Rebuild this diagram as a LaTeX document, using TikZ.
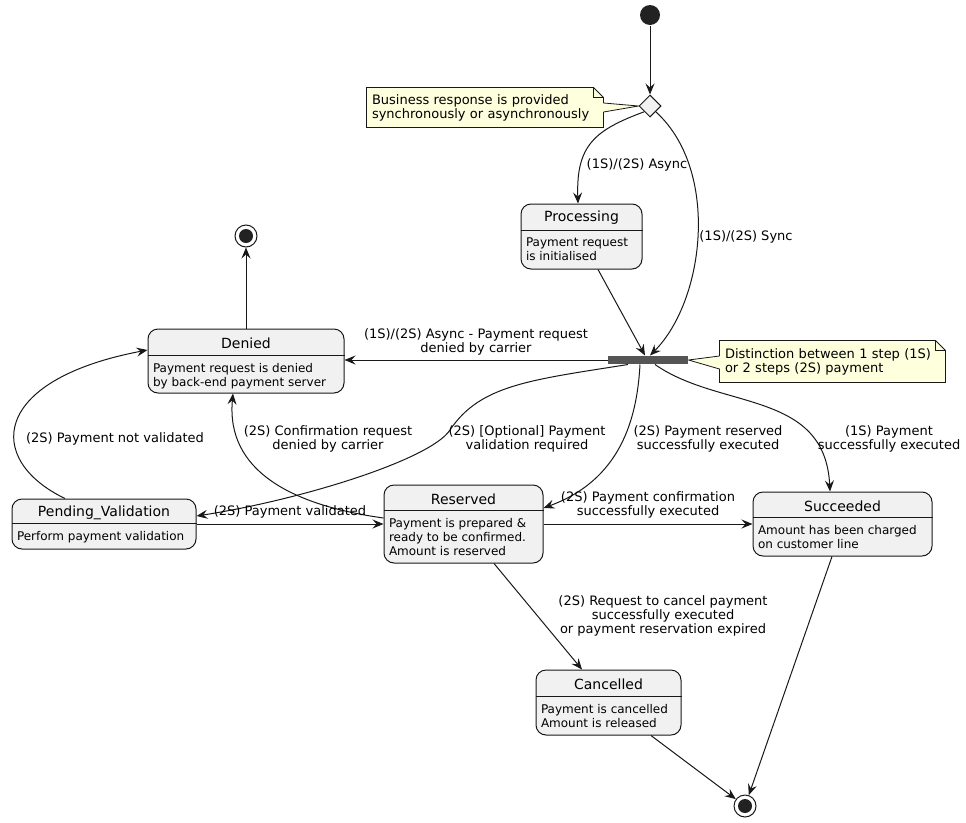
\documentclass[tikz,border=0pt]{standalone}
\usepackage{fontspec}
\setmainfont{DejaVu Sans}
\usetikzlibrary{arrows.meta,positioning,shapes.geometric,backgrounds}
\definecolor{stfill}{HTML}{F1F1F1}
\definecolor{stline}{HTML}{181818}
\definecolor{notefill}{HTML}{FEFFDD}
\definecolor{forkgray}{HTML}{555555}
\definecolor{dot}{HTML}{222222}

\begin{document}
\begin{tikzpicture}[x=1pt,y=-1pt,line width=1pt,
  st/.style={draw=stline,fill=stfill,rounded corners=10pt,inner sep=0pt},
  sttl/.style={font=\fontsize{14}{16}\selectfont,inner sep=0pt},
  stdesc/.style={font=\fontsize{12}{14}\selectfont,align=left,inner xsep=5pt,inner ysep=2pt,anchor=north west},
  sep/.style={draw=stline,line width=.8pt},
  lbl/.style={font=\fontsize{13}{14}\selectfont,align=center,inner sep=0pt},
  notebox/.style={font=\fontsize{13}{14}\selectfont,align=left,inner xsep=5pt,inner ysep=0pt},
  arr/.style={draw=stline,-{Stealth[length=11pt,width=9pt,inset=4pt]}},
  startst/.style={circle,fill=dot,minimum size=20pt,inner sep=0pt},
  endst/.style={circle,draw=stline,fill=white,minimum size=22pt,inner sep=0pt,
    path picture={\fill[dot] (path picture bounding box.center) circle (7pt);}}]
  \useasboundingbox (0,0) rectangle (966,822);

  % pseudo states
  \node[startst] (start) at (650,15) {};
  \node[diamond,draw=stline,fill=stfill,minimum size=22pt,inner sep=0pt] (choice) at (650,106) {};
  \node[fill=forkgray,minimum width=80pt,minimum height=8pt,inner sep=0pt] (fork) at (648,360) {};
  \node[endst] (endtop) at (246,236) {};
  \node[endst] (endbot) at (745,806) {};

  % states
  \node[st,minimum width=121pt,minimum height=65pt] (proc) at (581.5,236.5) {};
  \node[sttl] (proc-t) at ([yshift=-14.5pt]proc.north) {Processing};
  \draw[sep] ([yshift=-27pt]proc.north west) -- ([yshift=-27pt]proc.north east);
  \node[stdesc] (proc-d) at ([yshift=-32pt]proc.north west) {Payment request\\is initialised};

  \node[st,minimum width=196pt,minimum height=64pt] (den) at (246,361) {};
  \node[sttl] (den-t) at ([yshift=-14.5pt]den.north) {Denied};
  \draw[sep] ([yshift=-27pt]den.north west) -- ([yshift=-27pt]den.north east);
  \node[stdesc] (den-d) at ([yshift=-32pt]den.north west) {Payment request is denied\\by back-end payment server};

  \node[st,minimum width=184pt,minimum height=50pt] (pend) at (104,524) {};
  \node[sttl] (pend-t) at ([yshift=-14.5pt]pend.north) {Pending\_Validation};
  \draw[sep] ([yshift=-25pt]pend.north west) -- ([yshift=-25pt]pend.north east);
  \node[stdesc] (pend-d) at ([yshift=-30pt]pend.north west) {Perform payment validation};

  \node[st,minimum width=159pt,minimum height=78pt] (res) at (463.5,524) {};
  \node[sttl] (res-t) at ([yshift=-14.5pt]res.north) {Reserved};
  \draw[sep] ([yshift=-26pt]res.north west) -- ([yshift=-26pt]res.north east);
  \node[stdesc] (res-d) at ([yshift=-31pt]res.north west) {Payment is prepared \&\\ready to be confirmed.\\Amount is reserved};

  \node[st,minimum width=179pt,minimum height=64pt] (succ) at (842.5,524) {};
  \node[sttl] (succ-t) at ([yshift=-14.5pt]succ.north) {Succeeded};
  \draw[sep] ([yshift=-26pt]succ.north west) -- ([yshift=-26pt]succ.north east);
  \node[stdesc] (succ-d) at ([yshift=-31pt]succ.north west) {Amount has been charged\\on customer line};

  \node[st,minimum width=145pt,minimum height=65pt] (canc) at (608.5,702.5) {};
  \node[sttl] (canc-t) at ([yshift=-14.5pt]canc.north) {Cancelled};
  \draw[sep] ([yshift=-27pt]canc.north west) -- ([yshift=-27pt]canc.north east);
  \node[stdesc] (canc-d) at ([yshift=-32pt]canc.north west) {Payment is cancelled\\Amount is released};

  % notes
  \node[notebox,minimum width=236pt,minimum height=39pt,text width=226pt] (note1) at (485,107.5)
    {Business response is provided\\synchronously or asynchronously};
  \node[notebox,minimum width=225pt,minimum height=41pt,text width=215pt] (note2) at (832.5,361.5)
    {Distinction between 1 step (1S)\\or 2 steps (2S) payment};
  \begin{scope}[on background layer]
    \filldraw[draw=stline,fill=notefill,line width=.8pt] (note1.north west) -- ([xshift=-10pt]note1.north east)
      -- ([yshift=-10pt]note1.north east) -- (note1.south east) -- (note1.south west) -- cycle;
    \draw[stline,line width=.8pt] ([xshift=-10pt]note1.north east) -- ([xshift=-10pt,yshift=-10pt]note1.north east)
      -- ([yshift=-10pt]note1.north east);
    \fill[notefill] ([xshift=-1pt,yshift=4.5pt]note1.east) -- (choice.west) -- ([xshift=-1pt,yshift=-4.5pt]note1.east) -- cycle;
    \draw[stline,line width=.8pt] ([yshift=4.5pt]note1.east) -- (choice.west) -- ([yshift=-4.5pt]note1.east);

    \filldraw[draw=stline,fill=notefill,line width=.8pt] (note2.north west) -- ([xshift=-10pt]note2.north east)
      -- ([yshift=-10pt]note2.north east) -- (note2.south east) -- (note2.south west) -- cycle;
    \draw[stline,line width=.8pt] ([xshift=-10pt]note2.north east) -- ([xshift=-10pt,yshift=-10pt]note2.north east)
      -- ([yshift=-10pt]note2.north east);
    \fill[notefill] ([xshift=1pt,yshift=5.5pt]note2.west) -- (fork.east) -- ([xshift=1pt,yshift=-7.5pt]note2.west) -- cycle;
    \draw[stline,line width=.8pt] ([yshift=5.5pt]note2.west) -- (fork.east) -- ([yshift=-7.5pt]note2.west);
  \end{scope}

  % transitions
  \draw[arr] (start) -- (choice.north);
  \draw[arr] (choice.south west) .. controls (595,130) and (576,145) .. ([xshift=-3.5pt]proc.north);
  \draw[arr] (choice.south east) .. controls (720,170) and (705,300) .. ([xshift=2pt]fork.north);
  \draw[arr] ([xshift=16.5pt]proc.south) -- ([xshift=-3pt]fork.north);
  \draw[arr] (fork.west) -- (fork.west -| den.east);
  \draw[arr] (den.north) -- (endtop);
  \draw[arr] ([xshift=-39pt]pend.north) .. controls (-15,460) and (-10,380) .. ([yshift=11pt]den.west);
  \draw[arr] (pend.east) -- (pend.east -| res.west);
  \draw[arr] ([xshift=-20pt]fork.south) .. controls (530,380) and (480,385) .. (450,430)
    .. controls (430,460) and (300,500) .. ([yshift=8pt]pend.east);
  \draw[arr] ([yshift=6pt]res.west) .. controls (290,505) and (226,470) .. ([xshift=-13pt]den.south);
  \draw[arr] ([xshift=-8pt]fork.south) .. controls (637,420) and (620,480) .. ([yshift=16pt]res.east);
  \draw[arr] ([xshift=7pt]fork.south) .. controls (720,410) and (825,390) .. ([xshift=-12.5pt]succ.north);
  \draw[arr] (res.east) -- (res.east -| succ.west);
  \draw[arr] ([xshift=30.5pt]res.south) -- ([xshift=-26.5pt]canc.north);
  \draw[arr] ([xshift=42.5pt]canc.south) -- (endbot);
  \draw[arr] ([xshift=-10.5pt]succ.south) -- (endbot);

  % labels
  \node[lbl] (l-async) at (637,165) {(1S)/(2S) Async};
  \node[lbl] (l-sync) at (746,237) {(1S)/(2S) Sync};
  \node[lbl] (l-deny) at (476,342) {(1S)/(2S) Async - Payment request\\denied by carrier};
  \node[lbl] (l-notval) at (115,439) {(2S) Payment not validated};
  \node[lbl] (l-confden) at (328,439) {(2S) Confirmation request\\denied by carrier};
  \node[lbl] (l-opt) at (527,439) {(2S) [Optional] Payment\\validation required};
  \node[lbl] (l-resv) at (708,439) {(2S) Payment reserved\\successfully executed};
  \node[lbl] (l-1s) at (889,439) {(1S) Payment\\successfully executed};
  \node[lbl] (l-val) at (290,512) {(2S) Payment validated};
  \node[lbl] (l-conf) at (648,505) {(2S) Payment confirmation\\successfully executed};
  \node[lbl] (l-canc) at (663,616) {(2S) Request to cancel payment\\successfully executed\\or payment reservation expired};
\end{tikzpicture}
\end{document}
